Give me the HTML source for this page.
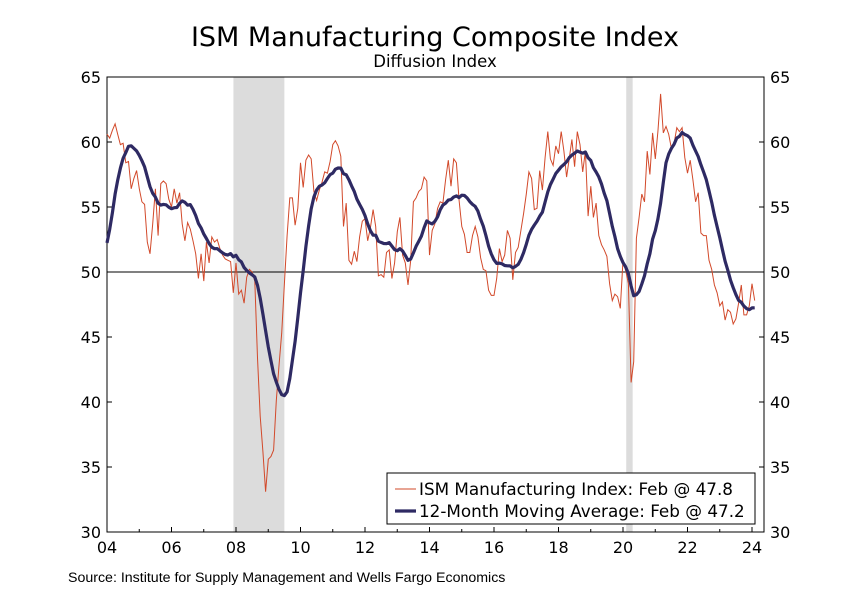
<!DOCTYPE html>
<html><head><meta charset="utf-8"><style>
body{margin:0;background:#fff;}
svg{display:block;}
text{font-family:"DejaVu Sans","Liberation Sans",sans-serif;fill:#000;}
</style></head><body>
<svg id="chart" width="864" height="593" viewBox="0 0 864 593">
<text x="435" y="46" font-size="27" text-anchor="middle">ISM Manufacturing Composite Index</text>
<text x="435" y="67" font-size="16.5" text-anchor="middle">Diffusion Index</text>
<g id="plot"></g>
<text x="68" y="582" font-size="14.2" style="font-family:'Liberation Sans',sans-serif">Source: Institute for Supply Management and Wells Fargo Economics</text>
</svg>
<script>
const preData=[50.1,47.8,45.6,44.2,47.8,48.6,50.8,53.2,52.7,55.9,59.6,60.1];
const ismData=[
60.6,60.3,60.9,61.4,60.6,59.8,59.9,58.4,58.5,56.4,57.2,57.8,
56.4,55.4,55.2,52.3,51.4,53.7,56.4,52.8,56.8,57.0,56.8,55.6,
55.0,56.4,55.3,56.1,53.7,52.4,53.8,53.3,52.4,51.4,49.5,51.4,
49.3,52.3,50.7,52.7,52.3,52.5,51.8,51.3,51.0,50.9,50.8,48.4,
50.7,48.3,48.6,47.6,49.6,50.2,50.0,49.3,43.4,38.9,36.2,33.1,
35.6,35.8,36.3,40.1,42.8,45.3,49.1,52.8,55.7,55.7,53.6,54.9,
58.4,56.5,58.6,59.0,58.7,56.2,55.5,56.3,56.9,57.7,57.6,58.5,
59.8,60.1,59.7,58.9,53.5,55.3,50.9,50.6,51.6,50.8,52.7,53.9,
54.1,52.4,53.4,54.8,53.5,49.7,49.8,49.6,51.5,51.7,49.5,50.7,
53.1,54.2,51.3,50.7,49.0,50.9,55.4,55.7,56.2,56.4,57.3,57.0,
51.3,53.2,53.7,54.9,55.4,55.3,57.1,58.6,56.6,58.7,58.4,55.5,
53.5,52.9,51.5,51.5,52.8,53.5,52.7,51.1,50.2,50.1,48.6,48.2,
48.2,49.5,51.8,50.8,51.3,53.2,52.6,49.4,51.5,51.9,53.2,54.5,
56.0,57.7,57.2,54.8,54.9,57.8,56.3,58.8,60.8,58.7,58.2,59.7,
59.1,60.8,59.3,57.3,58.7,60.2,58.1,60.8,59.8,57.7,59.3,54.3,
56.6,54.2,55.3,52.8,52.1,51.7,51.2,49.1,47.8,48.3,48.1,47.2,
50.9,50.1,49.1,41.5,43.1,52.6,54.2,56.0,55.4,59.3,57.5,60.7,
58.7,60.8,63.7,60.7,61.2,60.6,59.5,59.9,61.1,60.8,61.1,58.8,
57.6,58.6,57.1,55.4,56.1,53.0,52.8,52.8,50.9,50.2,49.0,48.4,
47.4,47.7,46.3,47.1,46.9,46.0,46.4,47.6,49.0,46.7,46.7,47.4,
49.1,47.8];
const yTicks=[30,35,40,45,50,55,60,65];
const xTickLabels=["04","06","08","10","12","14","16","18","20","22","24"];
const recessions=[[2007.92,2009.5],[2020.1,2020.3]];
const startYear=2004;

const L=107,R=764,T=77,B=532;
const x=t=>L+(t-2004)*32.25;
const y=v=>B-(v-30)*(B-T)/35;
const ns="http://www.w3.org/2000/svg";
const g=document.getElementById('plot');
function mk(tag,attrs){const e=document.createElementNS(ns,tag);for(const k in attrs)e.setAttribute(k,attrs[k]);g.appendChild(e);return e;}

recessions.forEach(r=>{
 const e=mk('rect',{x:x(r[0]),y:T,width:x(r[1])-x(r[0]),height:B-T,fill:'#dcdcdc'});
 
 
});
const z=mk('line',{x1:L,x2:R,y1:y(50),y2:y(50),stroke:'#000','stroke-width':1});


const fr=mk('rect',{x:L,y:T,width:R-L,height:B-T,fill:'none',stroke:'#000','stroke-width':1});



yTicks.forEach(v=>{
 mk('line',{x1:L,x2:L+5,y1:y(v),y2:y(v),stroke:'#000'});
 mk('line',{x1:R-5,x2:R,y1:y(v),y2:y(v),stroke:'#000'});
 const a=mk('text',{x:L-6,y:y(v)+6,'font-size':16,'text-anchor':'end'});a.textContent=v;
 
 
 const b=mk('text',{x:R+6,y:y(v)+6,'font-size':16});b.textContent=v;
 
 
});
xTickLabels.forEach((s,i)=>{
 const t=2004+i*2;
 mk('line',{x1:x(t),x2:x(t),y1:B,y2:B-5,stroke:'#000'});
 const a=mk('text',{x:x(t),y:B+21,'font-size':16,'text-anchor':'middle'});a.textContent=s;
 
 
});
for(let t=2005;t<2024;t+=2)mk('line',{x1:x(t),x2:x(t),y1:B,y2:B-3,stroke:'#000'});

const tm=i=>x(startYear+i/12);
const ismPts=ismData.map((v,i)=>tm(i).toFixed(1)+','+y(v).toFixed(1)).join(' ');
const l1=mk('polyline',{points:ismPts,fill:'none',stroke:'#d2492a','stroke-width':1});


const all=preData.concat(ismData);
const ma=ismData.map((v,i)=>{let s=0;for(let k=i+1;k<=i+12;k++)s+=all[k];return s/12;});
const maPts=ma.map((v,i)=>tm(i).toFixed(1)+','+y(v).toFixed(1)).join(' ');
const l2=mk('polyline',{points:maPts,fill:'none',stroke:'#2e2a63','stroke-width':3.2,'stroke-linejoin':'round'});



const lg=mk('rect',{x:387,y:473,width:368,height:51,fill:'#fff',stroke:'#000'});


mk('line',{x1:395,x2:416,y1:489,y2:489,stroke:'#d2492a','stroke-width':1});
const t1=mk('text',{x:419,y:495,'font-size':16.8});t1.textContent='ISM Manufacturing Index: Feb @ 47.8';


mk('line',{x1:395,x2:416,y1:511,y2:511,stroke:'#2e2a63','stroke-width':3.2});
const t2=mk('text',{x:419,y:517,'font-size':16.8});t2.textContent='12-Month Moving Average: Feb @ 47.2';


</script>
</body></html>
